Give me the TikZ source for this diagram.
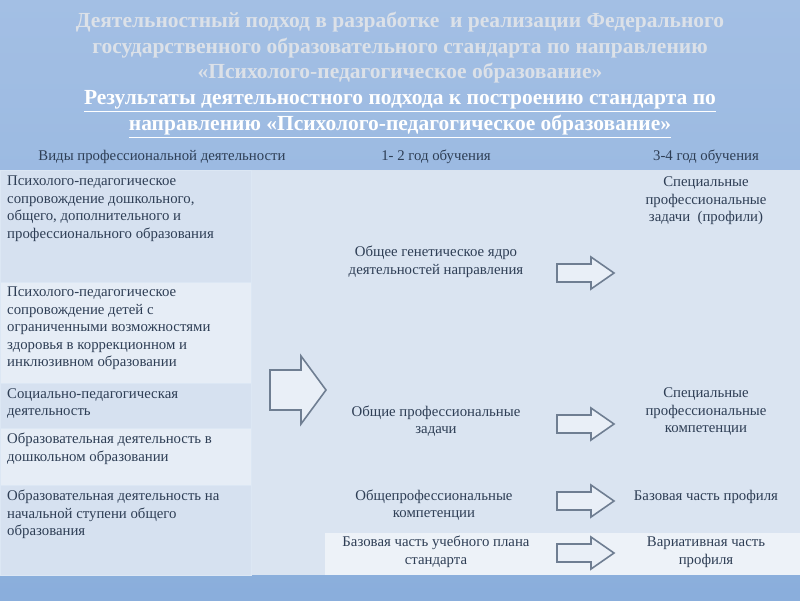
\documentclass[tikz,border=0pt]{standalone}
\usepackage{fontspec}
\setmainfont{Liberation Serif}
\definecolor{bgA}{HTML}{A3BFE4}
\definecolor{bgB}{HTML}{8AAEDC}
\definecolor{panel}{HTML}{DAE4F1}
\definecolor{cellA}{HTML}{D6E1F0}
\definecolor{cellB}{HTML}{E6EDF6}
\definecolor{light}{HTML}{EDF2F8}
\definecolor{txt}{HTML}{2E3E55}
\definecolor{ttl}{HTML}{DCE1E8}
\definecolor{arr}{HTML}{6F7E92}
\begin{document}
\begin{tikzpicture}[x=1pt,y=-1pt,
 cell/.style={draw=white!70!bgB,line width=0.8pt},
 lt/.style={font=\fontsize{14.8}{17.5}\selectfont,text=txt,align=left,anchor=north west,inner sep=0pt},
 ct/.style={font=\fontsize{14.8}{17.5}\selectfont,text=txt,align=center,inner sep=0pt},
 arrw/.style={draw=arr,fill=white!40!panel,line width=1.6pt,line join=miter}]
\useasboundingbox (0,0) rectangle (800,600);
\shade[top color=bgA,bottom color=bgB] (0,0) rectangle (800,600);
\node[font=\bfseries\fontsize{21.5}{25.5}\selectfont,text=ttl,align=center] (t) at (400,48)
 {Деятельностный подход в разработке \ и реализации Федерального\\государственного образовательного стандарта по направлению\\«Психолого-педагогическое образование»};
\node[font=\bfseries\fontsize{21.5}{26}\selectfont,text=white,align=center] (s) at (400,114)
 {\underline{Результаты деятельностного подхода к построению стандарта по}\\\underline{направлению «Психолого-педагогическое образование»}};
\node[ct] (h1) at (162,157) {Виды профессиональной деятельности};
\node[ct] (h2) at (436,157) {1- 2 год обучения};
\node[ct] (h3) at (706,157) {3-4 год обучения};
\fill[panel] (251,170) rectangle (800,575);
\fill[light] (325,533) rectangle (800,575);
\fill[cellA,cell] (0,170) rectangle (251,282);
\fill[cellB,cell] (0,282) rectangle (251,383);
\fill[cellA,cell] (0,383) rectangle (251,428);
\fill[cellB,cell] (0,428) rectangle (251,485);
\fill[cellA,cell] (0,485) rectangle (251,575);
\node[lt] (l1) at (7,176) {Психолого-педагогическое\\сопровождение дошкольного,\\общего, дополнительного и\\профессионального образования};
\node[lt] (l2) at (7,287) {Психолого-педагогическое\\сопровождение детей с\\ограниченными возможностями\\здоровья в коррекционном и\\инклюзивном образовании};
\node[lt] (l3) at (7,388) {Социально-педагогическая\\деятельность};
\node[lt] (l4) at (7,433) {Образовательная деятельность в\\дошкольном образовании};
\node[lt] (l5) at (7,490) {Образовательная деятельность на\\начальной ступени общего\\образования};
\node[ct] (m1) at (436,262) {Общее генетическое ядро\\деятельностей направления};
\node[ct] (m2) at (436,421) {Общие профессиональные\\задачи};
\node[ct] (m3) at (434,505) {Общепрофессиональные\\компетенции};
\node[ct] (m4) at (436,552) {Базовая часть учебного плана\\стандарта};
\node[ct] (r1) at (706,201) {Специальные\\профессиональные\\задачи \ (профили)};
\node[ct] (r2) at (706,412) {Специальные\\профессиональные\\компетенции};
\node[ct] (r3) at (706,497) {Базовая часть профиля};
\node[ct] (r4) at (706,552) {Вариативная часть\\профиля};
\draw[arrw] (270,370) -- (301,370) -- (301,356) -- (326,390) -- (301,424) -- (301,410) -- (270,410) -- cycle;
\foreach \y/\n in {273/a1,424/a2,501/a3,553/a4}{
 \draw[arrw] (557,\y-9) -- (591,\y-9) -- (591,\y-16) -- (614,\y) -- (591,\y+16) -- (591,\y+9) -- (557,\y+9) -- cycle;
 \coordinate (\n) at (585,\y);}
\end{tikzpicture}
\end{document}
